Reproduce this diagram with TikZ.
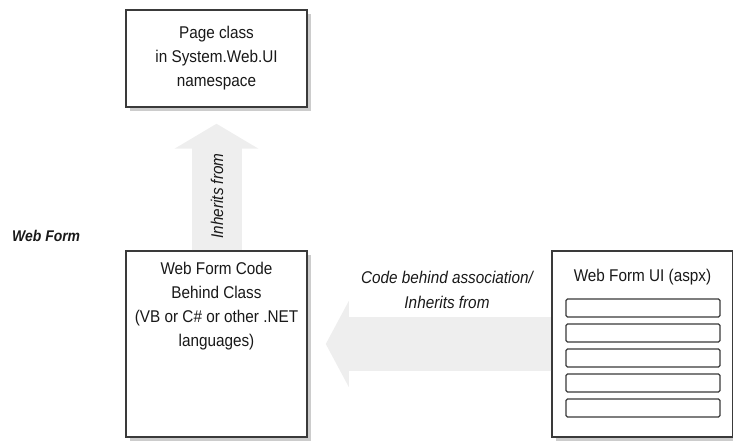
\documentclass[tikz,border=0pt]{standalone}
\usepackage{fontspec}
\setmainfont{Liberation Sans}[FakeStretch=0.9]
\usepackage{xcolor}
\usepackage{tikz}
\usetikzlibrary{arrows.meta, shadows, positioning}

\definecolor{arrowgray}{RGB}{238,238,238}
\definecolor{linegray}{RGB}{58,58,58}

\begin{document}
\begin{tikzpicture}[x=1pt, y=-1pt,
    box/.style={draw=linegray, line width=1.5pt, fill=white, minimum width=181pt,
        inner sep=0pt, drop shadow={shadow xshift=4pt, shadow yshift=-4pt, fill=black!40}},
    boxtext/.style={align=center, font=\fontsize{17}{24}\selectfont, text=black!90, inner sep=0pt},
    fieldbar/.style={draw=linegray, line width=1.3pt, rounded corners=1.5pt,
        minimum width=154pt, minimum height=18pt, inner sep=0pt}]

    \useasboundingbox (0,0) rectangle (733,443);

    % =================================================================
    % 1. CAC HOP (CLASS, CODE BEHIND, UI)
    % =================================================================
    % Hop Page class phia tren
    \node[box, boxtext, minimum height=97pt] (page) at (216.5,58.5)
        {Page class\\in System.Web.UI\\namespace};

    % Hop code behind
    \node[box, minimum height=186pt] (code) at (216.5,344) {};
    \node[boxtext, anchor=north] (codetext) at (216.5,262)
        {Web Form Code\\Behind Class\\(VB or C\# or other .NET\\languages)};

    % Hop Web Form UI
    \node[box, minimum height=186pt] (ui) at (642.5,344) {};
    \node[boxtext] (uititle) at (642.5,277) {Web Form UI (aspx)};

    % Cac o nhap lieu
    \foreach \i in {0,...,4}
        \node[fieldbar] (field\i) at (643,{308+25*\i}) {};

    % =================================================================
    % 2. MUI TEN RONG MAU XAM
    % =================================================================
    % Mui ten doc: code behind ke thua Page
    \draw[arrowgray, line width=50pt, -{Triangle[length=25pt, width=83pt]},
        shorten >=16pt] (code.north) -- (page.south);

    % Mui ten ngang: UI gan voi code behind
    \draw[arrowgray, line width=53pt, -{Triangle[length=23pt, width=85pt]},
        shorten >=18pt] (ui.west) -- (code.east);

    % =================================================================
    % 3. NHAN
    % =================================================================
    \node[boxtext, font=\fontsize{17}{24}\selectfont\itshape, rotate=90] (inh)
        at (217,196) {Inherits from};

    \node[boxtext, font=\fontsize{17}{25}\selectfont\itshape] (assoc) at (447,289.5)
        {Code behind association/\\Inherits from};

    \node[boxtext, font=\fontsize{15.5}{20}\selectfont\bfseries\itshape, anchor=west]
        (webform) at (12,236) {Web Form};

\end{tikzpicture}
\end{document}
